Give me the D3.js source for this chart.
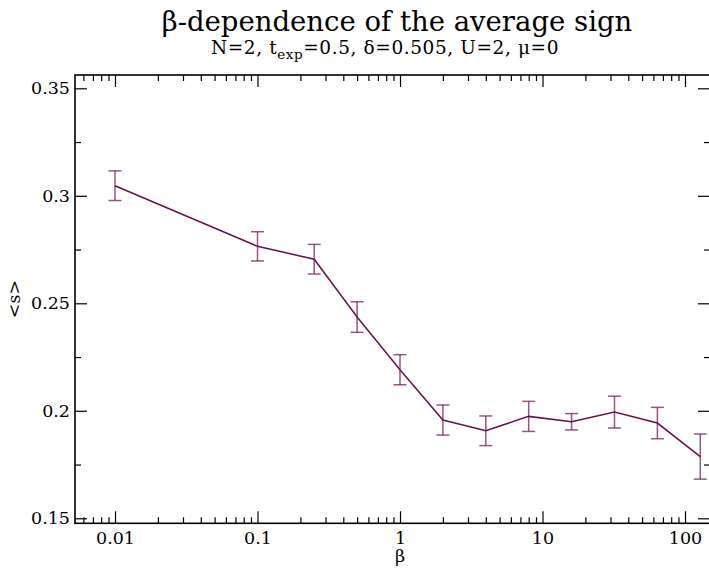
<!DOCTYPE html>
<html><head><meta charset="utf-8">
<script src="https://cdn.jsdelivr.net/npm/d3@7"></script>
<style>
body{margin:0;background:#fff;}
svg{display:block;}
text{font-family:"DejaVu Serif",serif;fill:#000;}
</style></head>
<body><svg id="c" width="709" height="572"></svg>
<script>
const betas=[0.01,0.1,0.25,0.5,1,2,4,8,16,32,64,128];
const signs=[0.3047,0.2765,0.2705,0.2436,0.2191,0.1957,0.1907,0.1974,0.1949,0.1994,0.1943,0.1787];
const errs=[0.0069,0.0068,0.0069,0.0071,0.0070,0.0070,0.0069,0.0070,0.0038,0.0074,0.0073,0.0105];
const xMajor=[0.01,0.1,1,10,100];
const xMajorLabels=["0.01","0.1","1","10","100"];
const yMajor=[0.15,0.2,0.25,0.3,0.35];
const yMajorLabels=["0.15","0.2","0.25","0.3","0.35"];
const yMinor=[0.175,0.225,0.275,0.325];

const L=75,R=710,T=75,B=523.3;
const svg=d3.select("#c");
const x=d3.scaleLog().domain([Math.pow(10,-2.2807),Math.pow(10,2.1754)]).range([L,R]);
const y=d3.scaleLinear().domain([0.14767,0.35619]).range([B,T]);

const xMinor=[];
for(let e=-3;e<=2;e++){for(let m=2;m<=9;m++){const v=m*Math.pow(10,e);if(v>=x.domain()[0]&&v<=x.domain()[1])xMinor.push(v);}}

function style(g){g.select(".domain").remove();g.selectAll(".tick line").attr("stroke","#000").attr("stroke-width",1.2);g.selectAll("text").attr("font-family","DejaVu Serif").attr("font-size",17.5).attr("fill","#000");}

// bottom
svg.append("g").attr("transform",`translate(0,${B})`).call(d3.axisBottom(x).tickValues(xMajor).tickSize(-12).tickPadding(8).tickFormat((d,i)=>xMajorLabels[i])).call(style);
svg.append("g").attr("transform",`translate(0,${B})`).call(d3.axisBottom(x).tickValues(xMinor).tickSize(-6).tickFormat("")).call(style);
// top
svg.append("g").attr("transform",`translate(0,${T})`).call(d3.axisTop(x).tickValues(xMajor).tickSize(-12).tickFormat("")).call(style);
svg.append("g").attr("transform",`translate(0,${T})`).call(d3.axisTop(x).tickValues(xMinor).tickSize(-6).tickFormat("")).call(style);
// left
svg.append("g").attr("transform",`translate(${L},0)`).call(d3.axisLeft(y).tickValues(yMajor).tickSize(-12).tickPadding(5).tickFormat((d,i)=>yMajorLabels[i])).call(style);
svg.append("g").attr("transform",`translate(${L},0)`).call(d3.axisLeft(y).tickValues(yMinor).tickSize(-6).tickFormat("")).call(style);
// right
svg.append("g").attr("transform",`translate(${R},0)`).call(d3.axisRight(y).tickValues(yMajor).tickSize(-12).tickFormat("")).call(style);
svg.append("g").attr("transform",`translate(${R},0)`).call(d3.axisRight(y).tickValues(yMinor).tickSize(-6).tickFormat("")).call(style);

svg.append("rect").attr("x",L).attr("y",T).attr("width",R-L).attr("height",B-T).attr("fill","none").attr("stroke","#000").attr("stroke-width",1.6);

const col="#6b0f50";
const data=betas.map((b,i)=>({b,s:signs[i],e:errs[i]}));
const eb=svg.append("g").attr("stroke",col).attr("stroke-opacity",0.7).attr("stroke-width",1.5).attr("fill","none");
data.forEach(d=>{
  const cx=x(d.b),y1=y(d.s+d.e),y2=y(d.s-d.e);
  eb.append("line").attr("x1",cx).attr("x2",cx).attr("y1",y1).attr("y2",y2);
  eb.append("line").attr("x1",cx-6.5).attr("x2",cx+6.5).attr("y1",y1).attr("y2",y1);
  eb.append("line").attr("x1",cx-6.5).attr("x2",cx+6.5).attr("y1",y2).attr("y2",y2);
});
svg.append("path").datum(data).attr("fill","none").attr("stroke",col).attr("stroke-width",1.5)
  .attr("d",d3.line().x(d=>x(d.b)).y(d=>y(d.s)));

// titles
svg.append("text").attr("x",397).attr("y",31).attr("text-anchor","middle").attr("font-size",27.5).text("β-dependence of the average sign");
const st=svg.append("text").attr("x",385).attr("y",54).attr("text-anchor","middle").attr("font-size",18.5).attr("letter-spacing",0.6);
st.append("tspan").text("N=2, t");
st.append("tspan").attr("font-size",13.5).attr("dy",5).text("exp");
st.append("tspan").attr("dy",-5).text("=0.5, δ=0.505, U=2, μ=0");

svg.append("text").attr("x",400).attr("y",562).attr("text-anchor","middle").attr("font-size",17.5).text("β");
svg.append("text").attr("transform","translate(20,299) rotate(-90)").attr("text-anchor","middle").attr("font-size",17.5).text("<s>");
</script></body></html>
